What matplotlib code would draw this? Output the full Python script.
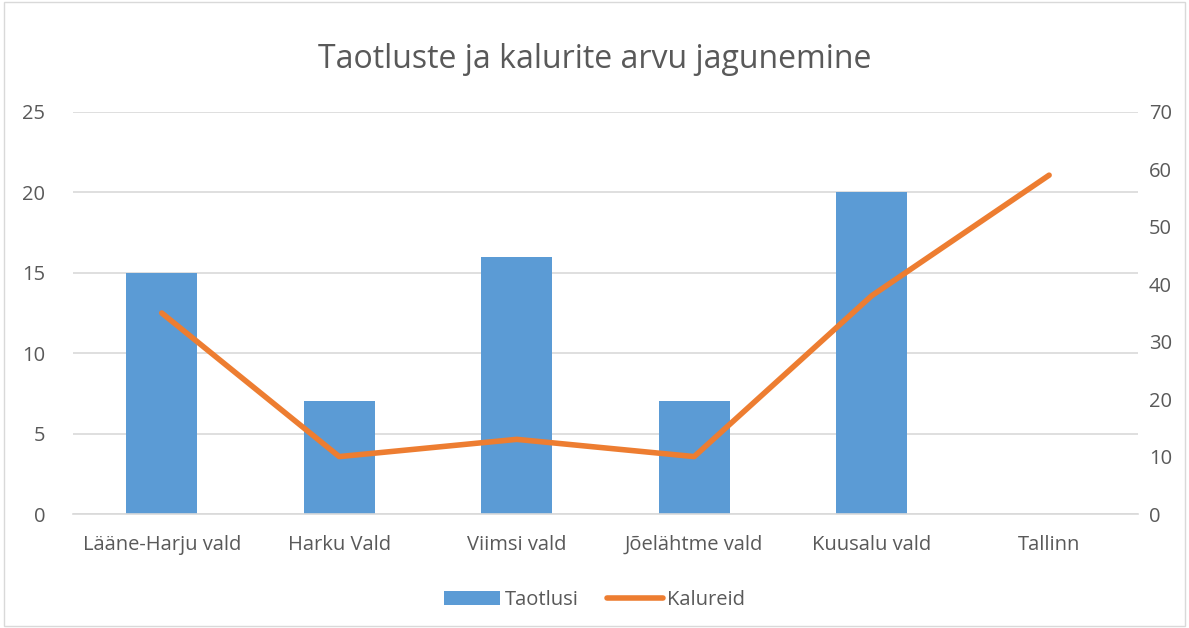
import numpy as np
import matplotlib.pyplot as plt

categories = ['Lääne-Harju vald', 'Harku Vald', 'Viimsi vald', 'Jõelähtme vald', 'Kuusalu vald', 'Tallinn']
taotlusi = [15, 7, 16, 7, 20, 0]
kalureid = [35, 10, 13, 10, 38, 59]

plt.rcParams['font.family'] = ['Open Sans', 'DejaVu Sans']
text_color = '#595959'
grid_color = '#D9D9D9'

fig = plt.figure(figsize=(11.89, 6.28), dpi=100)
ax = fig.add_axes([0.0614, 0.1815, 0.8956, 0.6402])
ax2 = ax.twinx()

x = np.arange(len(categories))
bars = ax.bar(x, taotlusi, width=0.4, color='#5B9BD5', label='Taotlusi', zorder=2)
line, = ax2.plot(x, kalureid, color='#ED7D31', linewidth=4, solid_capstyle='round',
                 solid_joinstyle='round', label='Kalureid', zorder=3)

ax.set_xlim(-0.5, len(categories) - 0.5)
ax.set_ylim(0, 25)
ax.set_yticks(range(0, 26, 5))
ax2.set_ylim(0, 70)
ax2.set_yticks(range(0, 71, 10))

ax.set_xticks(x)
ax.set_xticklabels(categories)
ax.yaxis.grid(True, color=grid_color, linewidth=1.2, zorder=0)
ax.set_axisbelow(True)

for a in (ax, ax2):
    for s in a.spines.values():
        s.set_visible(False)
    a.tick_params(length=0, labelsize=14.5, colors=text_color)
ax.tick_params(axis='y', pad=20)
ax2.tick_params(axis='y', pad=8)
ax.tick_params(axis='x', pad=15)
ax.spines['bottom'].set_visible(True)
ax.spines['bottom'].set_color(grid_color)
ax.spines['bottom'].set_linewidth(1.2)
ax2.set_zorder(ax.get_zorder() + 1)
ax2.patch.set_visible(False)

fig.text(0.5, 0.905, 'Taotluste ja kalurite arvu jagunemine', ha='center', va='center',
         fontsize=23, color=text_color)

fig.legend([bars, line], ['Taotlusi', 'Kalureid'], loc='center', bbox_to_anchor=(0.5, 0.045),
           ncol=2, frameon=False, fontsize=14.5, labelcolor=text_color, handlelength=2.8,
           handletextpad=0.2, columnspacing=1.4)

border = plt.Rectangle((0.003, 0.003), 0.994, 0.994, transform=fig.transFigure,
                       fill=False, edgecolor='#D9D9D9', linewidth=1)
fig.patches.append(border)

fig.savefig('out.png', dpi=100)
